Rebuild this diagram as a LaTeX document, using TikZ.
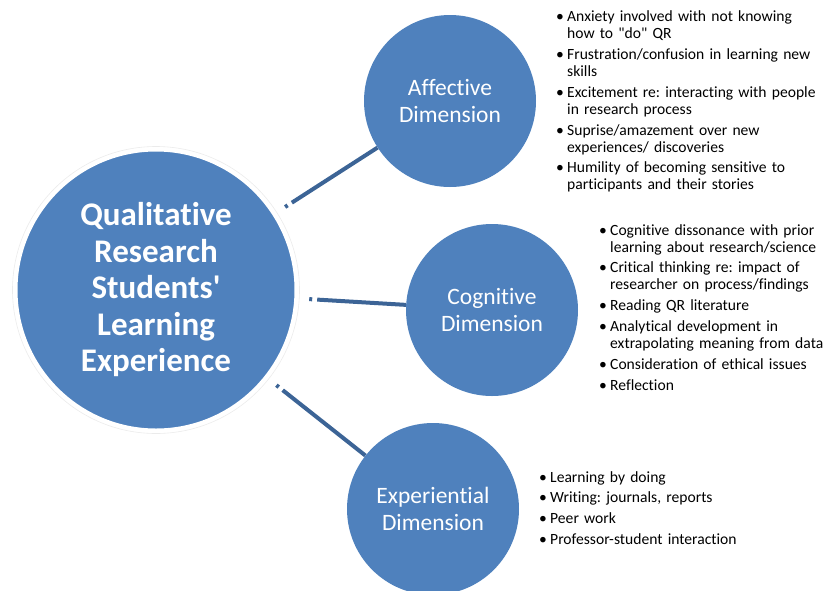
\documentclass[tikz,border=0pt]{standalone}
\usepackage{fontspec}
\setmainfont{Carlito}[Ligatures={TeXOff,CommonOff}]
\usepackage{tikz}

\definecolor{dimblue}{RGB}{79,129,189}
\definecolor{lineblue}{RGB}{60,100,150}

\newcommand{\litem}[1]{\hangindent=11pt\hangafter=1\noindent\makebox[11pt][l]{\textbullet}#1\par}

\tikzset{
  maincircle/.style={circle, fill=dimblue, draw=white, line width=3pt, minimum size=280pt, inner sep=0pt,
    text=white, align=center, font=\fontsize{33}{36.5}\selectfont\bfseries},
  dimcircle/.style={circle, fill=dimblue, minimum size=172pt, inner sep=0pt,
    text=white, align=center, font=\fontsize{23.5}{26.5}\selectfont},
  link/.style={draw=lineblue, line width=4pt, shorten <=12pt, dash pattern=on 3pt off 5pt on 500pt off 1pt},
  bullets/.style={text width=270pt, align=left, inner sep=0pt,
    font=\fontsize{15.6}{17}\selectfont\frenchspacing\setlength{\parskip}{3.8pt}}
}

\begin{document}
\begin{tikzpicture}[x=1pt,y=1pt]
\path[use as bounding box] (0,0) rectangle (825,-590);
\node[maincircle] (qr) at (156,-290) {Qualitative\\Research\\Students'\\Learning\\Experience};
\draw[black!8, line width=0.6pt] (qr.center) circle (143.5);
\node[dimcircle] (aff) at (450,-101) {Affective\\Dimension};
\node[dimcircle] (cog) at (492,-310) {Cognitive\\Dimension};
\node[dimcircle] (exp) at (433,-509) {Experiential\\Dimension};
\draw[link] (qr) -- (aff);
\draw[link] (qr) -- (cog);
\draw[link] (qr) -- (exp);
\node[bullets, anchor=base west] (afflist) at (556,-21.7) {%
\litem{Anxiety involved with not knowing\newline how to "do" QR}
\litem{Frustration/confusion in learning new\newline skills}
\litem{Excitement re: interacting with people\newline in research process}
\litem{Suprise/amazement over new\newline experiences/ discoveries}
\litem{Humility of becoming sensitive to\newline participants and their stories}};
\node[bullets, anchor=base west] (coglist) at (599,-235) {%
\litem{Cognitive dissonance with prior\newline learning about research/science}
\litem{Critical thinking re: impact of\newline researcher on process/findings}
\litem{Reading QR literature}
\litem{Analytical development in\newline extrapolating meaning from data}
\litem{Consideration of ethical issues}
\litem{Reflection}};
\node[bullets, anchor=base west] (explist) at (539,-482) {%
\litem{Learning by doing}
\litem{Writing: journals, reports}
\litem{Peer work}
\litem{Professor-student interaction}};
\end{tikzpicture}
\end{document}
